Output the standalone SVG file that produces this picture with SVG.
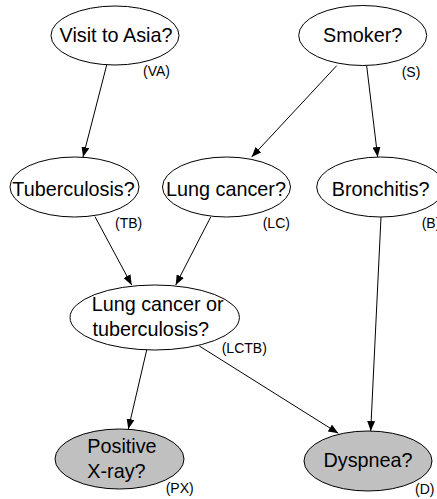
<svg xmlns="http://www.w3.org/2000/svg" width="437" height="499" viewBox="0 0 437 499">
<defs>
<marker id="ah" viewBox="0 0 10 8" refX="10" refY="4" markerWidth="10" markerHeight="8" markerUnits="userSpaceOnUse" orient="auto">
<path d="M0,0 L10,4 L0,8 Z" fill="#000"/>
</marker>
<style>
.n{fill:#fff;stroke:#000;stroke-width:1}
.g{fill:#c0c0c0;stroke:#000;stroke-width:1}
.t{font-family:"Liberation Sans",Arial,sans-serif;font-size:19.8px;fill:#000}
.c{text-anchor:middle}
.s{font-family:"Liberation Sans",Arial,sans-serif;font-size:14px;fill:#000}
.e{stroke:#000;stroke-width:1;fill:none;marker-end:url(#ah)}
</style>
</defs>
<rect width="437" height="499" fill="#fff"/>
<g id="connectors">
<line class="e" x1="106.7" y1="65" x2="83" y2="157"/>
<line class="e" x1="336.7" y1="65.7" x2="251.7" y2="157"/>
<line class="e" x1="366.7" y1="66" x2="377.7" y2="157"/>
<line class="e" x1="95" y1="216.7" x2="131.7" y2="285"/>
<line class="e" x1="210.7" y1="217" x2="175.7" y2="285"/>
<line class="e" x1="381" y1="217" x2="370.7" y2="431"/>
<line class="e" x1="146.7" y1="350" x2="128.3" y2="429"/>
<line class="e" x1="199.3" y1="346" x2="338.3" y2="433.3"/>
</g>
<g id="VA">
<ellipse class="n" cx="115" cy="35.5" rx="64" ry="29.5"/>
<text class="t c" x="116" y="41.5">Visit to Asia?</text>
<text class="s" x="143" y="76">(VA)</text>
</g>
<g id="S">
<ellipse class="n" cx="362.7" cy="35.5" rx="64" ry="30"/>
<text class="t c" x="362.7" y="42">Smoker?</text>
<text class="s" x="401.7" y="76.5">(S)</text>
</g>
<g id="TB">
<ellipse class="n" cx="74.5" cy="187" rx="64.5" ry="30"/>
<text class="t c" x="73.5" y="195.5">Tuberculosis?</text>
<text class="s" x="115" y="228">(TB)</text>
</g>
<g id="LC">
<ellipse class="n" cx="226.5" cy="187" rx="64" ry="30"/>
<text class="t c" x="226" y="195.5">Lung cancer?</text>
<text class="s" x="262.7" y="228">(LC)</text>
</g>
<g id="B">
<ellipse class="n" cx="380.7" cy="187" rx="64" ry="30"/>
<text class="t c" x="380.7" y="195.5">Bronchitis?</text>
<text class="s" x="421.7" y="228">(B)</text>
</g>
<g id="LCTB">
<ellipse class="n" cx="154.7" cy="317.5" rx="84.7" ry="32.5"/>
<text class="t" x="91.7" y="311">Lung cancer or</text>
<text class="t" x="92.5" y="335.5">tuberculosis?</text>
<text class="s" x="221.7" y="353">(LCTB)</text>
</g>
<g id="PX">
<ellipse class="g" cx="119.5" cy="459" rx="64.5" ry="30"/>
<text class="t" x="87.3" y="452.7">Positive</text>
<text class="t" x="87.3" y="478.3">X-ray?</text>
<text class="s" x="165.7" y="493">(PX)</text>
</g>
<g id="D">
<ellipse class="g" cx="368" cy="461" rx="64" ry="30"/>
<text class="t c" x="368" y="466.5">Dyspnea?</text>
<text class="s" x="415" y="494">(D)</text>
</g>
</svg>
